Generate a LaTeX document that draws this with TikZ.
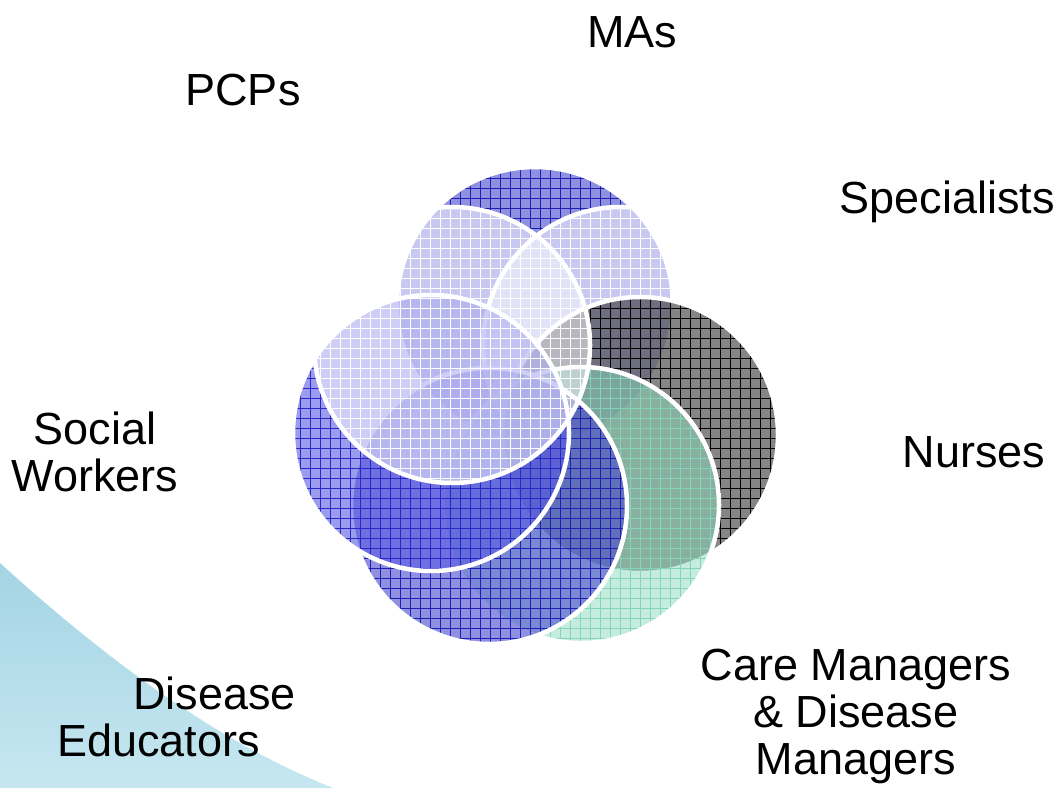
\documentclass[tikz,border=0pt]{standalone}
\usepackage{fontspec}
\setmainfont{Liberation Sans}
\usetikzlibrary{positioning,patterns.meta}

\definecolor{swooshtop}{HTML}{A4D4E4}
\definecolor{swooshbottom}{HTML}{C6E7F0}
\definecolor{mablue}{HTML}{4646CC}
\definecolor{magrid}{HTML}{1E1EB4}
\definecolor{swblue}{HTML}{5A5AE2}
\definecolor{swgrid}{HTML}{2828C8}
\definecolor{nursegray}{HTML}{333333}
\definecolor{cmgreen}{HTML}{8BDBBF}
\definecolor{cmgrid}{HTML}{86D4B8}

\begin{document}
\begin{tikzpicture}[
    x=1pt, y=1pt,
    venncircle/.style 2 args={circle, minimum size=276pt, inner sep=0pt,
      draw=white, line width=4.5pt, fill opacity=0.6,
      preaction={fill=#1},
      preaction={pattern={Hatch[distance=10pt,line width=0.8pt]}, pattern color=#2}},
    rolelabel/.style={font=\fontsize{45}{47}\selectfont, align=center, inner sep=0pt}
  ]
  \useasboundingbox (0,0) rectangle (1059,788);
  % light blue swoosh, bottom left
  \shade[top color=swooshtop, bottom color=swooshbottom]
    (0,225) .. controls (110,125) and (220,45) .. (333,0) -- (0,0) -- cycle;

  % circles, back to front
  \node[venncircle={mablue}{magrid}] (MAsCircle) at (535,483) {};
  \node[venncircle={white}{white}, fill opacity=0.5] (SpecialistsCircle) at (621,443) {};
  \node[venncircle={nursegray}{black}] (NursesCircle) at (640,353) {};
  \node[venncircle={cmgreen}{cmgrid}, fill opacity=0.5] (CareManagersCircle) at (581,283) {};
  \node[venncircle={mablue}{magrid}] (DiseaseEducatorsCircle) at (489,282) {};
  \node[venncircle={swblue}{swgrid}] (SocialWorkersCircle) at (431,355) {};
  \node[venncircle={white}{white}, fill opacity=0.5] (PCPsCircle) at (452,443) {};

  % labels
  \node[rolelabel] (MAs) at (632,756) {MAs};
  \node[rolelabel] (PCPs) at (243,698) {PCPs};
  \node[rolelabel] (Specialists) at (947,586) {Specialists};
  \node[rolelabel] (Nurses) at (974,336) {Nurses};
  \node[rolelabel] (SocialWorkers) at (95,336) {Social\\Workers};
  \node[rolelabel, align=left, anchor=west] (DiseaseEducators) at (57,71)
    {\hspace*{76pt}Disease\\Educators};
  \node[rolelabel] (CareManagers) at (856,72) {Care Managers\\\& Disease\\Managers};
\end{tikzpicture}
\end{document}
